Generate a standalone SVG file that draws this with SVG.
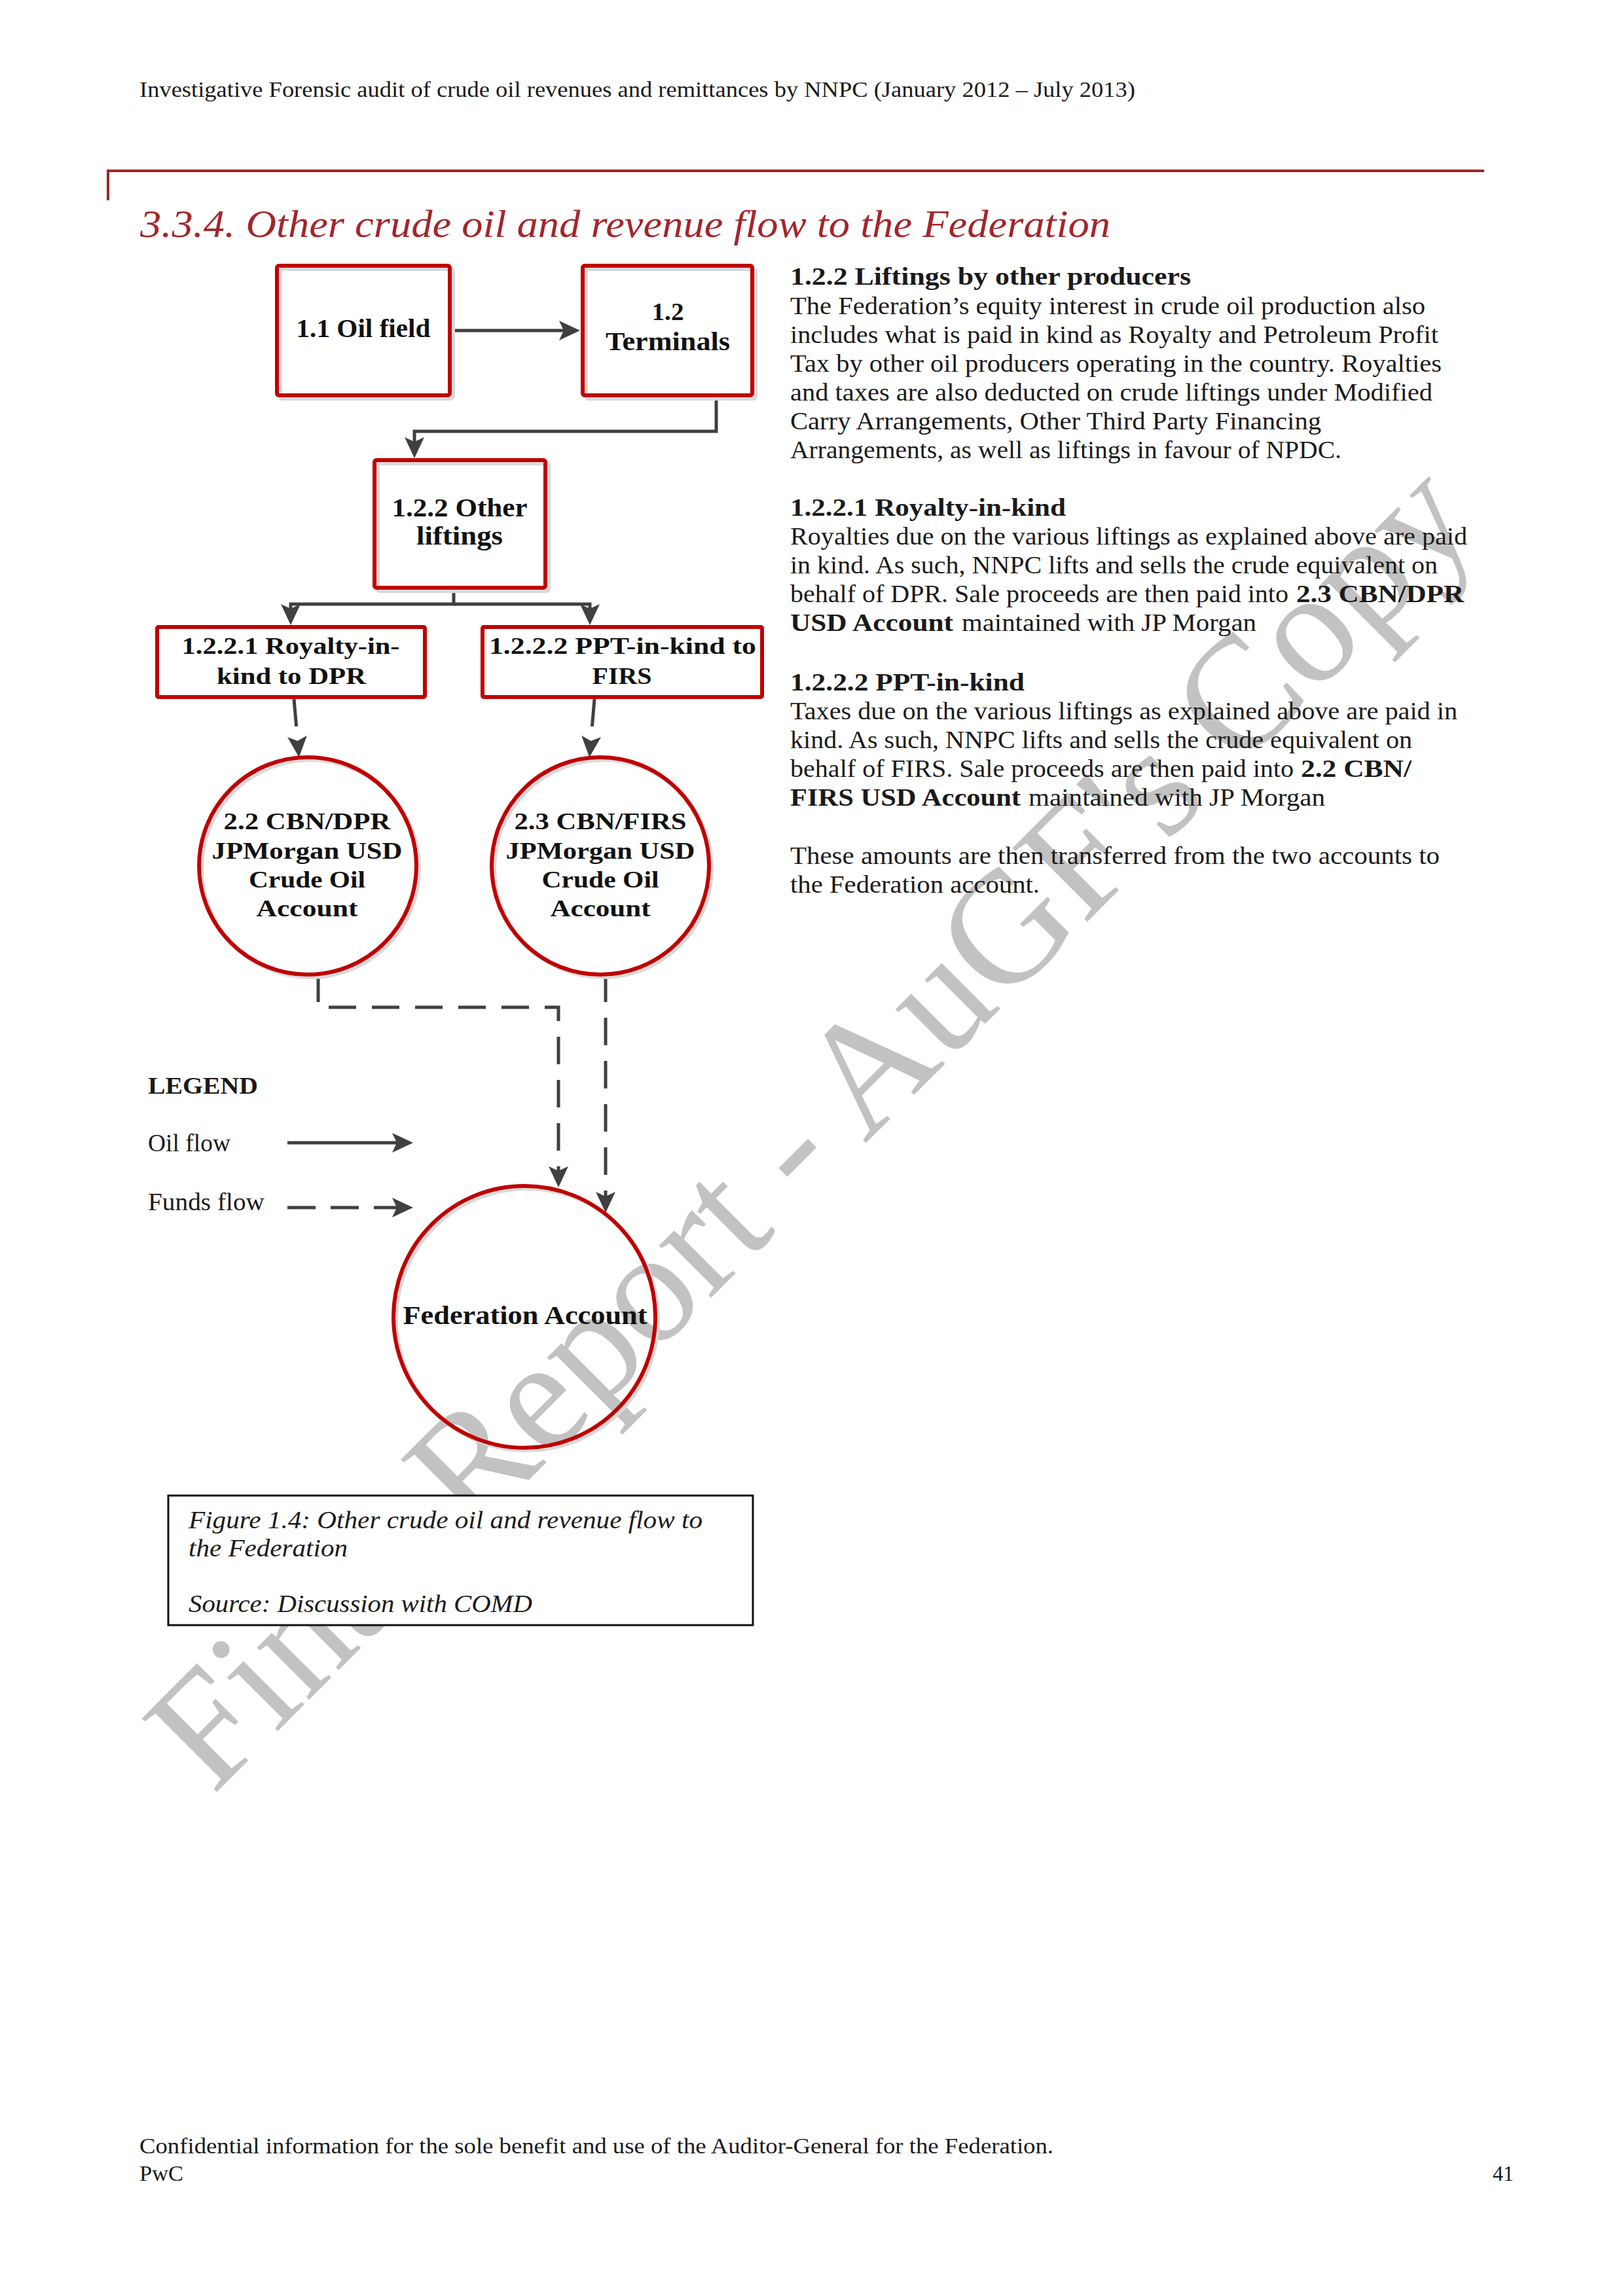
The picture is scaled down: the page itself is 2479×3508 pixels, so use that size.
<svg xmlns="http://www.w3.org/2000/svg" width="2479" height="3508" viewBox="0 0 2479 3508">
<style>
text{font-family:"Liberation Serif","Times New Roman",serif;fill:#1a1a1a}
.hdr{font-size:34px}
.ttl{font-size:60px;font-style:italic;fill:#a3262a}
.body{font-size:37px}
.bh{font-size:37px;font-weight:bold}
.nb{font-weight:bold;text-anchor:middle;fill:#111}
.leg{font-size:38px}
.cap{font-size:38px;font-style:italic}
.wm{font-size:245px;fill:#c2c2c2}
.box{fill:none;stroke:#c00000;stroke-width:6}
.shd{fill:none;stroke:#dadada;stroke-width:6}
.conn{fill:none;stroke:#404040;stroke-width:5}
.dash{stroke-dasharray:42 24}
</style>
<defs>
<marker id="ah" viewBox="0 0 32 30" markerWidth="32" markerHeight="30" refX="12" refY="15" orient="auto" markerUnits="userSpaceOnUse">
<path d="M0,0 L32,15 L0,30 L7,15 z" fill="#404040"/>
</marker>
</defs>
<rect x="0" y="0" width="2479" height="3508" fill="#ffffff"/>

<g id="watermark">
<text class="wm" transform="translate(325,2744) rotate(-45)" x="0" y="0" textLength="2740" lengthAdjust="spacingAndGlyphs">Final Report - AuGF's Copy</text>
</g>

<g id="page-header">
<text class="hdr" x="213" y="148" textLength="1521" lengthAdjust="spacingAndGlyphs">Investigative Forensic audit of crude oil revenues and remittances by NNPC (January 2012 – July 2013)</text>
<line x1="163" y1="261" x2="2267" y2="261" stroke="#a3262a" stroke-width="4"/>
<line x1="165" y1="259" x2="165" y2="306" stroke="#a3262a" stroke-width="4"/>
<text class="ttl" x="214" y="362" textLength="1482" lengthAdjust="spacingAndGlyphs">3.3.4. Other crude oil and revenue flow to the Federation</text>
</g>

<g id="connectors">
<path class="conn" d="M690,505 H866" marker-end="url(#ah)"/>
<path class="conn" d="M1094,607 V659 H633 V680" marker-end="url(#ah)"/>
<path class="conn" d="M693,901 V923 H444 V935" marker-end="url(#ah)"/>
<path class="conn" d="M693,923 H901 V935" marker-end="url(#ah)"/>
<path class="conn dash" d="M449,1068 L455,1137" marker-end="url(#ah)"/>
<path class="conn dash" d="M908,1068 L902,1137" marker-end="url(#ah)"/>
<path class="conn dash" d="M486,1489 V1539 H853 V1794" marker-end="url(#ah)"/>
<path class="conn dash" d="M925,1489 V1833" marker-end="url(#ah)"/>
</g>

<g id="node-oil-field">
<rect class="shd" x="428" y="411" width="264" height="198" rx="3"/>
<rect class="box" x="423" y="406" width="264" height="198" rx="3"/>
<text class="nb" x="555" y="515" font-size="40" textLength="205" lengthAdjust="spacingAndGlyphs">1.1 Oil field</text>
</g>

<g id="node-terminals">
<rect class="shd" x="895" y="411" width="259" height="198" rx="3"/>
<rect class="box" x="890" y="406" width="259" height="198" rx="3"/>
<text class="nb" x="1020" y="489" font-size="38" textLength="49" lengthAdjust="spacingAndGlyphs">1.2</text>
<text class="nb" x="1020" y="535" font-size="40" textLength="190" lengthAdjust="spacingAndGlyphs">Terminals</text>
</g>

<g id="node-other-liftings">
<rect class="shd" x="577" y="708" width="261" height="195" rx="3"/>
<rect class="box" x="572" y="703" width="261" height="195" rx="3"/>
<text class="nb" x="702" y="789" font-size="40" textLength="207" lengthAdjust="spacingAndGlyphs">1.2.2 Other</text>
<text class="nb" x="702" y="832" font-size="40" textLength="132" lengthAdjust="spacingAndGlyphs">liftings</text>
</g>

<g id="node-royalty-in-kind">
<rect class="box" x="240" y="958" width="409" height="107" rx="2"/>
<text class="nb" x="444" y="999" font-size="36" textLength="333" lengthAdjust="spacingAndGlyphs">1.2.2.1 Royalty-in-</text>
<text class="nb" x="445" y="1045" font-size="36" textLength="228" lengthAdjust="spacingAndGlyphs">kind to DPR</text>
</g>

<g id="node-ppt-in-kind">
<rect class="box" x="737" y="958" width="427" height="107" rx="2"/>
<text class="nb" x="951" y="999" font-size="36" textLength="408" lengthAdjust="spacingAndGlyphs">1.2.2.2 PPT-in-kind to</text>
<text class="nb" x="950" y="1045" font-size="36" textLength="91" lengthAdjust="spacingAndGlyphs">FIRS</text>
</g>

<g id="node-cbn-dpr">
<circle class="shd" cx="474" cy="1327" r="166"/>
<circle cx="470" cy="1323" r="166" class="box"/>
<text class="nb" x="469" y="1267" font-size="35" textLength="255" lengthAdjust="spacingAndGlyphs">2.2 CBN/DPR</text>
<text class="nb" x="469" y="1312" font-size="35" textLength="291" lengthAdjust="spacingAndGlyphs">JPMorgan USD</text>
<text class="nb" x="469" y="1356" font-size="35" textLength="178" lengthAdjust="spacingAndGlyphs">Crude Oil</text>
<text class="nb" x="469" y="1400" font-size="35" textLength="155" lengthAdjust="spacingAndGlyphs">Account</text>
</g>

<g id="node-cbn-firs">
<circle class="shd" cx="921" cy="1327" r="166"/>
<circle cx="917" cy="1323" r="166" class="box"/>
<text class="nb" x="917" y="1267" font-size="35" textLength="263" lengthAdjust="spacingAndGlyphs">2.3 CBN/FIRS</text>
<text class="nb" x="917" y="1312" font-size="35" textLength="289" lengthAdjust="spacingAndGlyphs">JPMorgan USD</text>
<text class="nb" x="917" y="1356" font-size="35" textLength="179" lengthAdjust="spacingAndGlyphs">Crude Oil</text>
<text class="nb" x="917" y="1400" font-size="35" textLength="153" lengthAdjust="spacingAndGlyphs">Account</text>
</g>

<g id="node-federation-account">
<circle class="shd" cx="805" cy="2016" r="200"/>
<circle cx="801" cy="2012" r="200" class="box"/>
<text class="nb" x="802" y="2023" font-size="40" textLength="373" lengthAdjust="spacingAndGlyphs">Federation Account</text>
</g>

<g id="legend">
<text x="226" y="1671" font-size="36" font-weight="bold" textLength="168" lengthAdjust="spacingAndGlyphs">LEGEND</text>
<text class="leg" x="226" y="1759" textLength="126" lengthAdjust="spacingAndGlyphs">Oil flow</text>
<text class="leg" x="226" y="1849" textLength="178" lengthAdjust="spacingAndGlyphs">Funds flow</text>
<path class="conn" d="M439,1746 H611" marker-end="url(#ah)"/>
<path class="conn" style="stroke-dasharray:43 23" d="M439,1845 H611" marker-end="url(#ah)"/>
</g>

<g id="caption">
<rect x="257" y="2285" width="893" height="198" fill="#ffffff" stroke="#111" stroke-width="3"/>
<text class="cap" x="288" y="2335" textLength="785" lengthAdjust="spacingAndGlyphs">Figure 1.4: Other crude oil and revenue flow to</text>
<text class="cap" x="288" y="2378" textLength="243" lengthAdjust="spacingAndGlyphs">the Federation</text>
<text class="cap" x="288" y="2463" textLength="525" lengthAdjust="spacingAndGlyphs">Source: Discussion with COMD</text>
</g>

<g id="description">
<text class="bh" x="1207" y="435" textLength="612" lengthAdjust="spacingAndGlyphs">1.2.2 Liftings by other producers</text>
<text class="body" x="1207" y="480" textLength="970" lengthAdjust="spacingAndGlyphs">The Federation’s equity interest in crude oil production also</text>
<text class="body" x="1207" y="524" textLength="990" lengthAdjust="spacingAndGlyphs">includes what is paid in kind as Royalty and Petroleum Profit</text>
<text class="body" x="1207" y="568" textLength="995" lengthAdjust="spacingAndGlyphs">Tax by other oil producers operating in the country. Royalties</text>
<text class="body" x="1207" y="612" textLength="981" lengthAdjust="spacingAndGlyphs">and taxes are also deducted on crude liftings under Modified</text>
<text class="body" x="1207" y="656" textLength="811" lengthAdjust="spacingAndGlyphs">Carry Arrangements, Other Third Party Financing</text>
<text class="body" x="1207" y="700" textLength="842" lengthAdjust="spacingAndGlyphs">Arrangements, as well as liftings in favour of NPDC.</text>

<text class="bh" x="1207" y="788" textLength="421" lengthAdjust="spacingAndGlyphs">1.2.2.1 Royalty-in-kind</text>
<text class="body" x="1207" y="832" textLength="1034" lengthAdjust="spacingAndGlyphs">Royalties due on the various liftings as explained above are paid</text>
<text class="body" x="1207" y="876" textLength="989" lengthAdjust="spacingAndGlyphs">in kind. As such, NNPC lifts and sells the crude equivalent on</text>
<text class="body" x="1207" y="920" textLength="761" lengthAdjust="spacingAndGlyphs">behalf of DPR. Sale proceeds are then paid into</text>
<text class="bh" x="1980" y="920" textLength="256" lengthAdjust="spacingAndGlyphs">2.3 CBN/DPR</text>
<text class="bh" x="1207" y="964" textLength="249" lengthAdjust="spacingAndGlyphs">USD Account</text>
<text class="body" x="1469" y="964" textLength="450" lengthAdjust="spacingAndGlyphs">maintained with JP Morgan</text>

<text class="bh" x="1207" y="1055" textLength="358" lengthAdjust="spacingAndGlyphs">1.2.2.2 PPT-in-kind</text>
<text class="body" x="1207" y="1099" textLength="1019" lengthAdjust="spacingAndGlyphs">Taxes due on the various liftings as explained above are paid in</text>
<text class="body" x="1207" y="1143" textLength="950" lengthAdjust="spacingAndGlyphs">kind. As such, NNPC lifts and sells the crude equivalent on</text>
<text class="body" x="1207" y="1187" textLength="769" lengthAdjust="spacingAndGlyphs">behalf of FIRS. Sale proceeds are then paid into</text>
<text class="bh" x="1987" y="1187" textLength="169" lengthAdjust="spacingAndGlyphs">2.2 CBN/</text>
<text class="bh" x="1207" y="1231" textLength="352" lengthAdjust="spacingAndGlyphs">FIRS USD Account</text>
<text class="body" x="1571" y="1231" textLength="453" lengthAdjust="spacingAndGlyphs">maintained with JP Morgan</text>

<text class="body" x="1207" y="1320" textLength="992" lengthAdjust="spacingAndGlyphs">These amounts are then transferred from the two accounts to</text>
<text class="body" x="1207" y="1364" textLength="381" lengthAdjust="spacingAndGlyphs">the Federation account.</text>
</g>

<g id="page-footer">
<text class="hdr" x="213" y="3290" textLength="1396" lengthAdjust="spacingAndGlyphs">Confidential information for the sole benefit and use of the Auditor-General for the Federation.</text>
<text class="hdr" x="213" y="3332" textLength="67" lengthAdjust="spacingAndGlyphs">PwC</text>
<text class="hdr" x="2280" y="3332" textLength="32" lengthAdjust="spacingAndGlyphs">41</text>
</g>
</svg>
